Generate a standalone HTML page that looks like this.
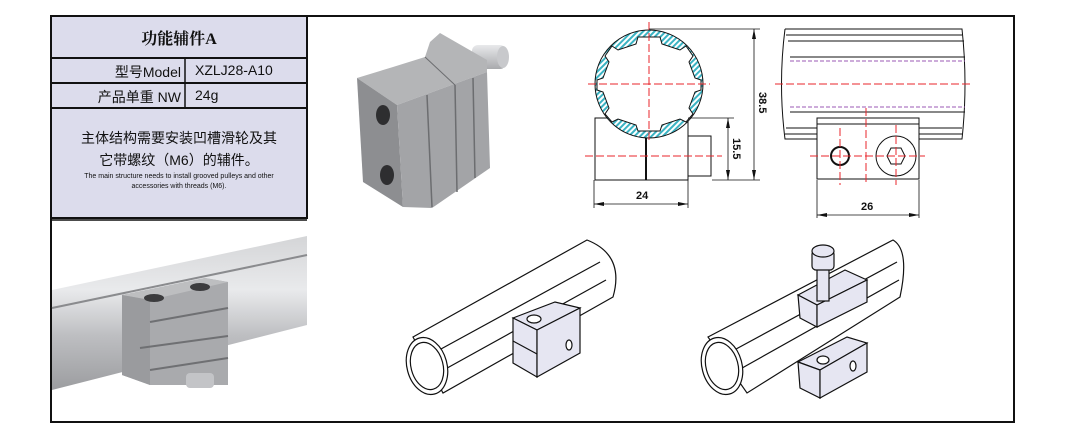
<!DOCTYPE html>
<html><head><meta charset="utf-8"><style>
body{margin:0;background:#fff;width:1080px;height:444px;overflow:hidden;font-family:"Liberation Sans","Noto Sans CJK SC",sans-serif}
.t{position:absolute;color:#111}
</style></head><body>
<svg width="1080" height="444" style="position:absolute;left:0;top:0" xmlns="http://www.w3.org/2000/svg">
<defs>
<linearGradient id="rod" x1="0" y1="0" x2="0" y2="1"><stop offset="0" stop-color="#d4d5d7"/><stop offset="0.35" stop-color="#e9eaec"/><stop offset="0.65" stop-color="#bdbec1"/><stop offset="1" stop-color="#9c9da0"/></linearGradient>
<linearGradient id="pin" x1="0" y1="0" x2="0" y2="1"><stop offset="0" stop-color="#e8e9eb"/><stop offset="1" stop-color="#a9aaad"/></linearGradient>
<pattern id="hatch" width="4" height="4" patternUnits="userSpaceOnUse" patternTransform="rotate(45)"><rect width="4" height="4" fill="#fff"/><rect width="2" height="4" fill="#3bb3c3"/></pattern>
</defs>
<rect x="51" y="16" width="963" height="406" fill="none" stroke="#111" stroke-width="2"/>
<rect x="51" y="16" width="256" height="202" fill="#dcdcec" stroke="#111" stroke-width="2"/>
<line x1="51" y1="58" x2="307" y2="58" stroke="#111" stroke-width="2"/>
<line x1="51" y1="83" x2="307" y2="83" stroke="#111" stroke-width="2"/>
<line x1="51" y1="108" x2="307" y2="108" stroke="#111" stroke-width="2"/>
<line x1="185" y1="58" x2="185" y2="108" stroke="#111" stroke-width="1.5"/>
<line x1="51" y1="220" x2="307" y2="220" stroke="#111" stroke-width="1.5"/>

<!-- top photo block -->
<g>
<rect x="472" y="45" width="34" height="24" rx="6" fill="url(#pin)"/>
<ellipse cx="503" cy="57" rx="6" ry="11" fill="#c8c9cc"/>
<polygon points="357,78 393,67 425,57 430,42 440,33 487,60 487,72 397,105" fill="#b4b5b7"/>
<polygon points="357,78 397,105 403,207 363,182" fill="#8d8e91"/>
<polygon points="397,105 487,72 490,168 432,208 403,207" fill="#a3a4a7"/>
<line x1="427" y1="95" x2="432" y2="207" stroke="#6c6d70" stroke-width="1.5"/>
<line x1="455" y1="85" x2="457" y2="192" stroke="#6c6d70" stroke-width="1.5"/>
<line x1="473" y1="78" x2="475" y2="178" stroke="#6c6d70" stroke-width="1.5"/>
<line x1="425" y1="57" x2="455" y2="85" stroke="#6c6d70" stroke-width="1"/>
<ellipse cx="383" cy="115" rx="7" ry="10" fill="#2e2e30"/>
<ellipse cx="387" cy="175" rx="7" ry="10" fill="#2e2e30"/>
</g>

<!-- bottom-left photo -->
<g>
<polygon points="52,290 307,236 307,325 52,390" fill="url(#rod)"/>
<line x1="52" y1="308" x2="307" y2="255" stroke="#8a8b8e" stroke-width="2"/>
<polygon points="122,295 205,278 228,282 228,385 150,385 122,375" fill="#a9aaad"/>
<polygon points="122,295 205,278 228,282 150,300" fill="#bdbec0"/>
<polygon points="122,295 150,300 150,385 122,375" fill="#9a9b9e"/>
<line x1="150" y1="322" x2="228" y2="308" stroke="#6f7073" stroke-width="2"/>
<line x1="140" y1="348" x2="228" y2="336" stroke="#6f7073" stroke-width="2"/>
<line x1="150" y1="370" x2="228" y2="358" stroke="#6f7073" stroke-width="2"/>
<ellipse cx="154" cy="298" rx="10" ry="4" fill="#3c3c3e"/>
<ellipse cx="200" cy="287" rx="10" ry="4" fill="#3c3c3e"/>
<rect x="186" y="373" width="28" height="15" rx="4" fill="#c3c4c7"/>
</g>

<!-- tech drawing left -->
<g stroke="#111" fill="none" stroke-width="1">
<rect x="595" y="118" width="93" height="62" fill="#fff"/>
<rect x="688" y="136" width="23" height="40"/>
<circle cx="649" cy="84" r="54" fill="url(#hatch)"/>
<path d="M649,37 L660,37 L662,44 L680,50 L686,46 L693,56 L689,62 L695,78 L701,80 L701,90 L695,92 L689,108 L693,114 L686,122 L680,119 L662,125 L660,131 L638,131 L636,125 L618,119 L612,122 L605,114 L609,108 L603,92 L597,90 L597,80 L603,78 L609,62 L605,56 L612,46 L618,50 L636,44 L638,37 Z" fill="#fff"/>
<line x1="646" y1="138" x2="646" y2="180" stroke-width="2"/>
</g>
<g stroke="#e8262b" stroke-dasharray="8,3" stroke-width="1">
<line x1="649" y1="22" x2="649" y2="140"/>
<line x1="588" y1="84" x2="710" y2="84"/>
<line x1="585" y1="156" x2="722" y2="156"/>
</g>
<g stroke="#111" stroke-width="0.8">
<line x1="594" y1="180" x2="594" y2="208"/><line x1="688" y1="180" x2="688" y2="208"/>
<line x1="594" y1="204" x2="688" y2="204"/>
<line x1="688" y1="118" x2="734" y2="118"/><line x1="712" y1="180" x2="760" y2="180"/>
<line x1="728" y1="118" x2="728" y2="180"/>
<line x1="649" y1="29" x2="760" y2="29"/>
<line x1="754" y1="29" x2="754" y2="180"/>
<line x1="817" y1="180" x2="817" y2="218"/><line x1="919" y1="180" x2="919" y2="218"/>
<line x1="817" y1="215" x2="919" y2="215"/>
</g>
<g fill="#111">
<polygon points="594,204 604,202 604,206"/><polygon points="688,204 678,202 678,206"/>
<polygon points="728,118 726,128 730,128"/><polygon points="728,180 726,170 730,170"/>
<polygon points="754,29 752,39 756,39"/><polygon points="754,180 752,170 756,170"/>
<polygon points="817,215 827,213 827,217"/><polygon points="919,215 909,213 909,217"/>
</g>
<g font-family="Liberation Sans" font-weight="bold" font-size="11" fill="#111">
<text x="636" y="199">24</text>
<text x="861" y="210">26</text>
<text transform="translate(733,138) rotate(90)">15.5</text>
<text transform="translate(759,92) rotate(90)">38.5</text>
</g>
<g stroke="#111" fill="none" stroke-width="1">
<path d="M785,29 L962,29 Q968,84 962,139 L785,139 Q778,84 785,29"/>
<line x1="786" y1="35" x2="962" y2="35"/>
<line x1="788" y1="41" x2="964" y2="41"/>
<line x1="790" y1="57" x2="965" y2="57"/>
<line x1="790" y1="112" x2="965" y2="112"/>
<line x1="786" y1="128" x2="962" y2="128"/>
<line x1="785" y1="134" x2="962" y2="134"/>
<rect x="817" y="118" width="102" height="61" fill="#fff"/>
<line x1="817" y1="124" x2="919" y2="124"/>
<circle cx="840" cy="156" r="9" stroke-width="2"/>
<circle cx="896" cy="156" r="20"/>
<polygon points="887,156 891,148 901,148 905,156 901,164 891,164"/>
</g>
<g stroke="#9b59b6" stroke-dasharray="4,2"><line x1="790" y1="61" x2="965" y2="61"/><line x1="790" y1="107" x2="965" y2="107"/></g>
<g stroke="#e8262b" stroke-dasharray="8,3"><line x1="775" y1="84" x2="972" y2="84"/><line x1="810" y1="156" x2="925" y2="156"/><line x1="840" y1="128" x2="840" y2="185"/><line x1="866" y1="108" x2="866" y2="185"/><line x1="896" y1="125" x2="896" y2="185"/></g>

<!-- iso left -->
<g stroke="#111" stroke-width="1.2" fill="#fff">
<path d="M413,337 L587,240 Q625,255 613,297 L443,393 Z"/>
<line x1="430" y1="355" x2="600" y2="262"/>
<line x1="440" y1="372" x2="606" y2="280"/>
<ellipse cx="427" cy="366" rx="20" ry="29" transform="rotate(-15 427 366)"/>
<ellipse cx="427" cy="366" rx="16" ry="24" transform="rotate(-15 427 366)"/>
<polygon points="513,318 555,302 580,308 537,330" fill="#e6e6f2"/>
<polygon points="513,318 537,330 537,377 513,363" fill="#e6e6f2"/>
<polygon points="537,330 580,308 580,353 537,377" fill="#e6e6f2"/>
<line x1="513" y1="341" x2="537" y2="354"/>
<ellipse cx="534" cy="319" rx="7" ry="4"/>
<ellipse cx="569" cy="345" rx="3" ry="5"/>
</g>
<!-- iso right -->
<g stroke="#111" stroke-width="1.2" fill="#fff">
<path d="M708,337 L893,240 Q910,250 900,297 L747,393 Z"/>
<line x1="725" y1="355" x2="897" y2="262"/>
<line x1="735" y1="372" x2="899" y2="280"/>
<ellipse cx="722" cy="366" rx="20" ry="29" transform="rotate(-15 722 366)"/>
<ellipse cx="722" cy="366" rx="16" ry="24" transform="rotate(-15 722 366)"/>
<polygon points="798,295 845,270 867,280 817,305" fill="#e6e6f2"/>
<polygon points="798,295 817,305 817,327 800,318" fill="#e6e6f2"/>
<polygon points="817,305 867,280 867,302 817,327" fill="#e6e6f2"/>
<rect x="817" y="265" width="12" height="36" fill="#e6e6f2"/>
<rect x="812" y="250" width="22" height="20" rx="4" fill="#e6e6f2"/>
<ellipse cx="823" cy="251" rx="11" ry="6" fill="#e6e6f2"/>
<polygon points="798,362 847,337 867,343 820,370" fill="#e6e6f2"/>
<polygon points="798,362 820,370 820,398 800,388" fill="#e6e6f2"/>
<polygon points="820,370 867,343 867,372 820,398" fill="#e6e6f2"/>
<ellipse cx="823" cy="360" rx="6" ry="4"/>
<ellipse cx="853" cy="366" rx="3" ry="5"/>
</g>
</svg>
<div class="t" style="left:51px;top:26px;width:256px;text-align:center;font-family:'Liberation Serif','Noto Serif CJK SC',serif;font-weight:bold;font-size:16px">功能辅件A</div>
<div class="t" style="left:51px;top:62px;width:130px;text-align:right;font-size:14px">型号Model</div>
<div class="t" style="left:195px;top:62px;font-size:14px">XZLJ28-A10</div>
<div class="t" style="left:51px;top:87px;width:130px;text-align:right;font-size:14px">产品单重 NW</div>
<div class="t" style="left:195px;top:87px;font-size:14px">24g</div>
<div class="t" style="left:51px;top:127px;width:256px;text-align:center;font-size:14px;line-height:22px">主体结构需要安装凹槽滑轮及其<br>它带螺纹（M6）的辅件。</div>
<div class="t" style="left:51px;top:172px;width:256px;text-align:center;font-size:7px;line-height:10px">The main structure needs to install grooved pulleys and other<br>accessories with threads (M6).</div>
</body></html>
